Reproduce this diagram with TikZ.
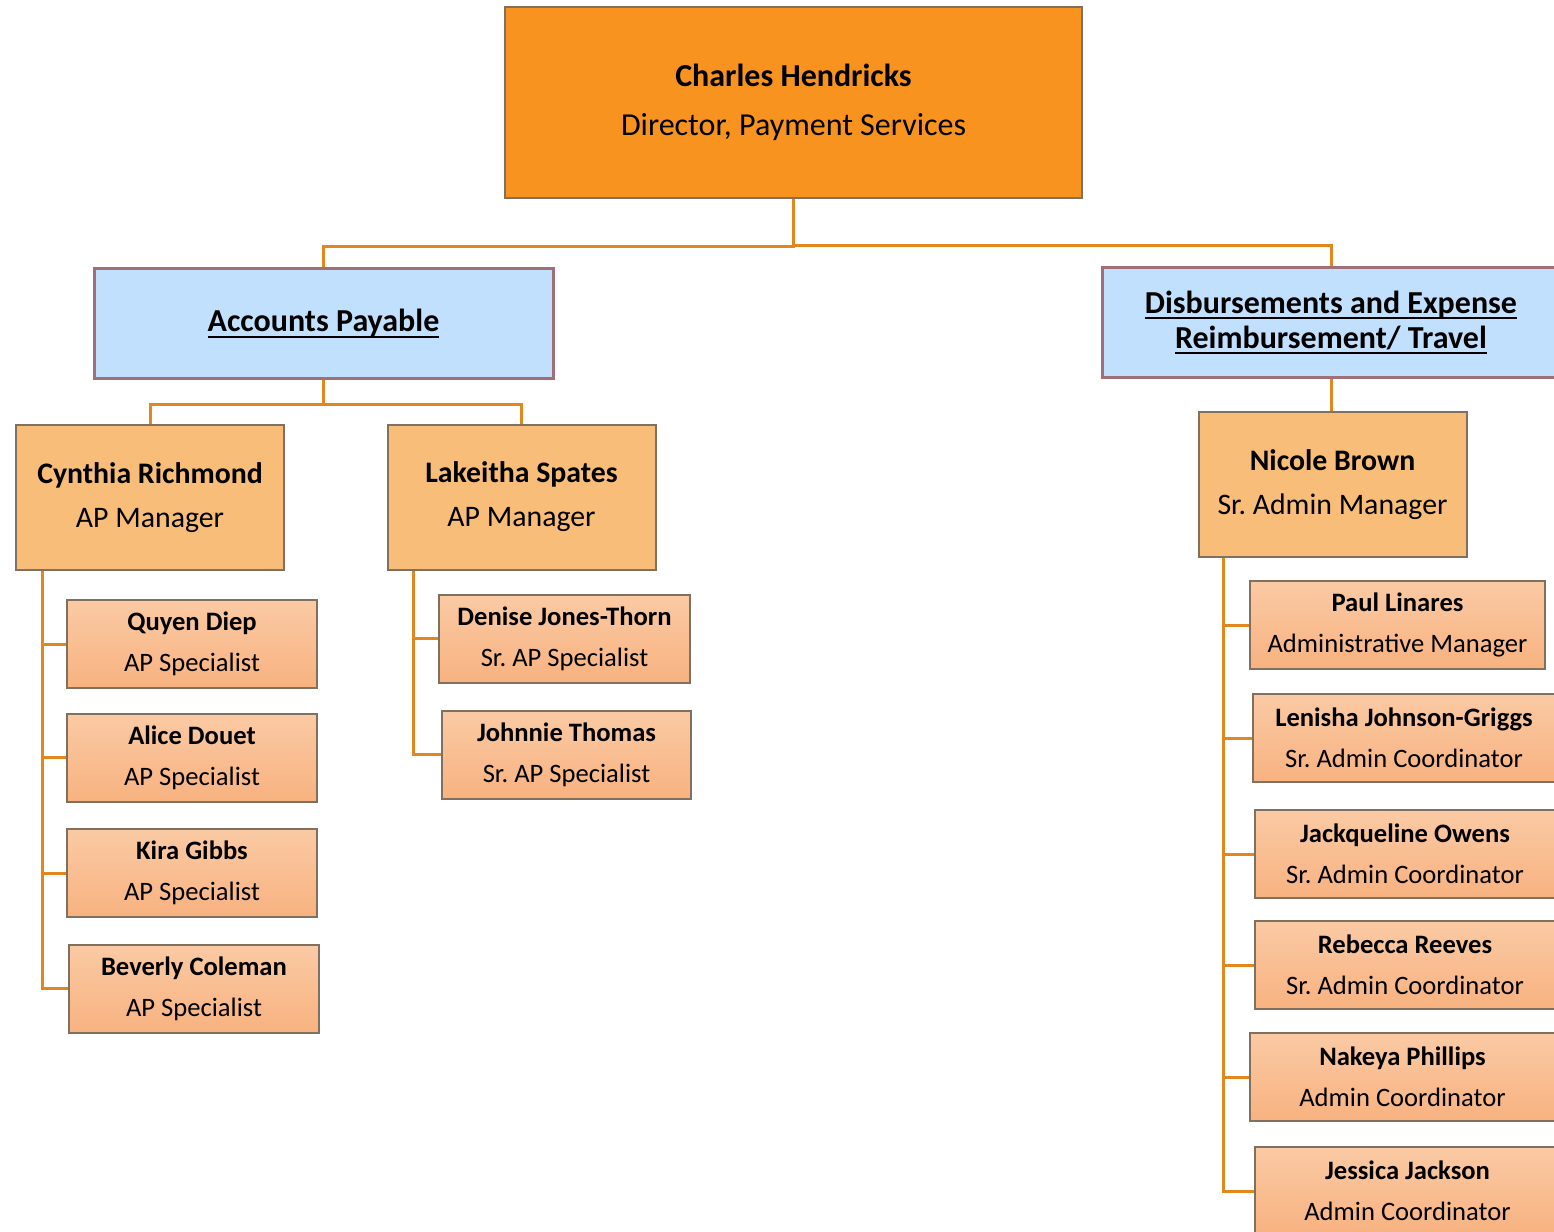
\documentclass[tikz,border=0pt]{standalone}
\usepackage{fontspec}
\setmainfont{Carlito}
\frenchspacing
\definecolor{dirfill}{RGB}{247,147,30}
\definecolor{mgrfill}{RGB}{248,189,120}
\definecolor{spectop}{RGB}{250,202,164}
\definecolor{specbot}{RGB}{248,178,128}
\definecolor{deptfill}{RGB}{192,224,254}
\definecolor{deptline}{RGB}{160,112,118}
\definecolor{boxline}{RGB}{128,112,96}
\definecolor{conncol}{RGB}{226,135,30}
\newcommand{\thickul}[1]{{\setbox0\hbox{#1}\rlap{\raisebox{-3pt}{\rule{\wd0}{0.9pt}}}\box0}}
\tikzset{
  box/.style={draw=boxline, line width=1pt, inner sep=0pt, align=center},
  dirbox/.style={box, fill=dirfill, minimum width=288.5pt, minimum height=95.5pt,
    font=\fontsize{16}{24.5}\selectfont\frenchspacing},
  deptbox/.style={box, draw=deptline, line width=1.5pt, fill=deptfill, minimum height=55pt,
    font=\fontsize{16}{17.5}\selectfont\bfseries\frenchspacing},
  mgrbox/.style={box, fill=mgrfill, minimum width=134pt, minimum height=72.5pt,
    font=\fontsize{14.9}{22}\selectfont\frenchspacing},
  specbox/.style={box, top color=spectop, bottom color=specbot, minimum height=44pt,
    font=\fontsize{13.3}{20.5}\selectfont\frenchspacing},
  conn/.style={draw=conncol, line width=1.5pt}
}
\begin{document}
\begin{tikzpicture}[x=0.5pt,y=-0.5pt]
\clip (0,0) rectangle (1554,1232);
\fill[white] (0,0) rectangle (1554,1232);
% top
\node[dirbox] (dir) at (793.5,102.5) {\textbf{Charles Hendricks}\\Director, Payment Services};
\node[deptbox, minimum width=229.5pt] (ap) at (323.5,323.5) {\thickul{Accounts Payable}};
\node[deptbox, minimum width=229pt] (dert) at (1331,322.5) {\thickul{Disbursements and Expense}\\\thickul{Reimbursement/ Travel}};
% managers
\node[mgrbox] (cyn) at (150,497.5) {\textbf{Cynthia Richmond}\\AP Manager};
\node[mgrbox] (lak) at (521.5,497) {\textbf{Lakeitha Spates}\\AP Manager};
\node[mgrbox] (nic) at (1332.5,484.5) {\textbf{Nicole Brown}\\Sr. Admin Manager};
% AP specialists
\node[specbox, minimum width=125pt] (quy) at (192,644) {\textbf{Quyen Diep}\\AP Specialist};
\node[specbox, minimum width=125pt] (ali) at (192,757.5) {\textbf{Alice Douet}\\AP Specialist};
\node[specbox, minimum width=125pt] (kir) at (192,873) {\textbf{Kira Gibbs}\\AP Specialist};
\node[specbox, minimum width=125pt] (bev) at (194,988.5) {\textbf{Beverly Coleman}\\AP Specialist};
\node[specbox, minimum width=125.5pt] (den) at (564.5,638.5) {\textbf{Denise Jones-Thorn}\\Sr. AP Specialist};
\node[specbox, minimum width=124.5pt] (joh) at (566.5,754.5) {\textbf{Johnnie Thomas}\\Sr. AP Specialist};
% right specialists
\node[specbox, minimum width=147.5pt] (pau) at (1397.5,625) {\textbf{Paul Linares}\\Administrative Manager};
\node[specbox, minimum width=151pt] (len) at (1404,738) {\textbf{Lenisha Johnson-Griggs}\\Sr. Admin Coordinator};
\node[specbox, minimum width=150pt] (jac) at (1405,854) {\textbf{Jackqueline Owens}\\Sr. Admin Coordinator};
\node[specbox, minimum width=150pt] (reb) at (1405,965) {\textbf{Rebecca Reeves}\\Sr. Admin Coordinator};
\node[specbox, minimum width=152.5pt] (nak) at (1402.5,1077) {\textbf{Nakeya Phillips}\\Admin Coordinator};
\node[specbox, minimum width=152.5pt] (jes) at (1407.5,1191) {\textbf{Jessica Jackson}\\Admin Coordinator};
% connectors
\draw[conn] (dir.south) -- ++(0,47) -| (ap.north);
\draw[conn] (dir.south) -- ++(0,46) -| (dert.north);
\draw[conn] (ap.south) -- ++(0,24) -| (cyn.north);
\draw[conn] (ap.south) -- ++(0,24) -| (lak.north);
\draw[conn] (dert.south) -- (dert.south |- nic.north);
% Cynthia spine
\coordinate (cs) at ([xshift=13.5pt]cyn.south west);
\draw[conn] (cs) |- (bev.west);
\foreach \n in {quy,ali,kir}{\draw[conn] (cs |- \n.west) -- (\n.west);}
% Lakeitha spine
\coordinate (ls) at ([xshift=13.5pt]lak.south west);
\draw[conn] (ls) |- (joh.west);
\draw[conn] (ls |- den.west) -- (den.west);
% Nicole spine
\coordinate (ns) at ([xshift=13pt]nic.south west);
\draw[conn] (ns) |- (jes.west);
\foreach \n in {pau,len,jac,reb,nak}{\draw[conn] (ns |- \n.west) -- (\n.west);}
\end{tikzpicture}
\end{document}
